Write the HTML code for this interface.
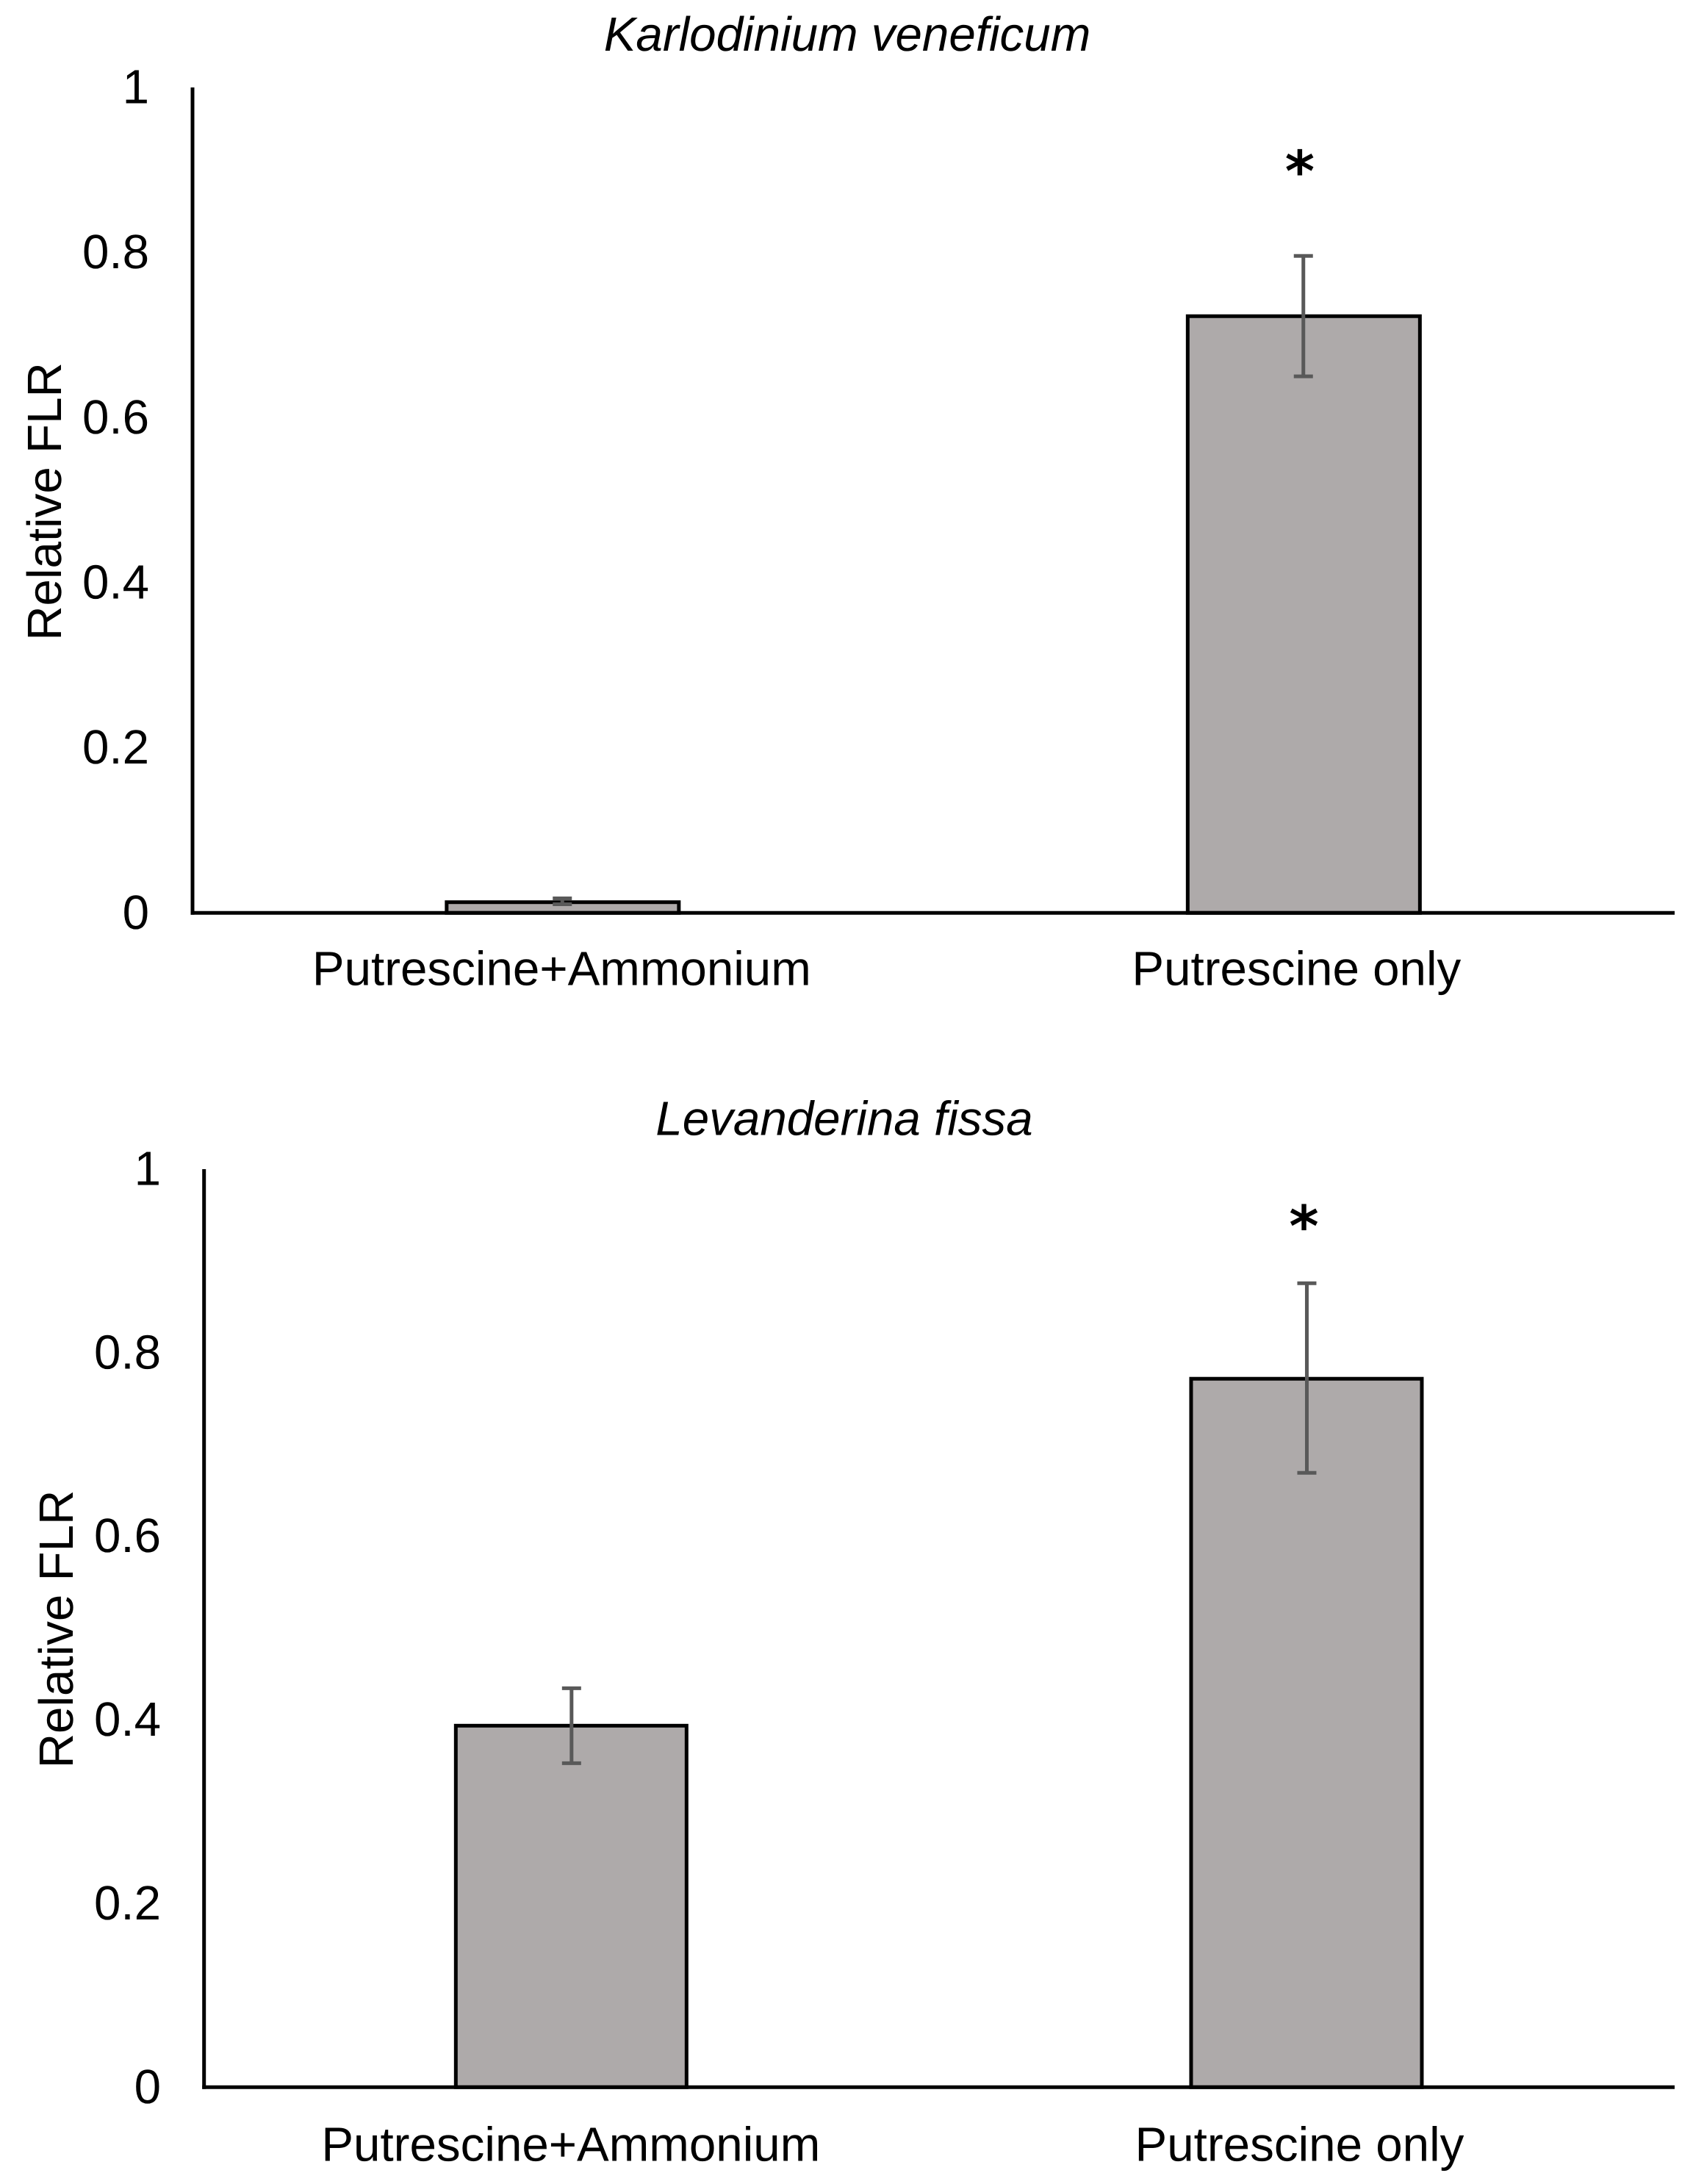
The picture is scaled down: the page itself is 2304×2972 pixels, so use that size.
<!DOCTYPE html>
<html lang="en">
<head>
<meta charset="utf-8">
<title>Relative FLR of Karlodinium veneficum and Levanderina fissa</title>
<style>
html,body{margin:0;padding:0;background:#fff;width:2304px;height:2972px;overflow:hidden}
svg{display:block;position:absolute;left:0;top:0}
text{font-family:"Liberation Sans",Arial,sans-serif;fill:#000;text-rendering:geometricPrecision}
</style>
</head>
<body>
<svg id="figure" xmlns="http://www.w3.org/2000/svg" width="2304" height="2972" viewBox="0 0 2304 2972"></svg>
<script>
const categories = ["Putrescine+Ammonium", "Putrescine only"];
const tickValues = [0, 0.2, 0.4, 0.6, 0.8, 1];
const tickLabels = ["0", "0.2", "0.4", "0.6", "0.8", "1"];
const yAxisTitle = "Relative FLR";

const karloTitle = "Karlodinium veneficum";
const karloValues = [0.013, 0.7229];
const karloErrHigh = [0.0176, 0.7959];
const karloErrLow = [0.0105, 0.650];
const karloStars = ["", "*"];
const karloStarValues = [0, 0.9075];

const levanTitle = "Levanderina fissa";
const levanValues = [0.3938, 0.7717];
const levanErrHigh = [0.4346, 0.8757];
const levanErrLow = [0.3529, 0.6692];
const levanStars = ["", "*"];
const levanStarValues = [0, 0.9474];

const NS = "http://www.w3.org/2000/svg";
const FONT = 65.5;
const STROKE = 5;
const root = document.getElementById("figure");

function mk(parent, tag, attrs, txt) {
  const el = document.createElementNS(NS, tag);
  for (const k in attrs) el.setAttribute(k, attrs[k]);
  if (txt !== undefined) el.textContent = txt;
  parent.appendChild(el);
  return el;
}

function drawPanel(p, title, values, errHigh, errLow, stars, starValues) {
  const y = v => p.y0 - v * (p.y0 - p.y1);
  const band = (p.xEnd - p.x0) / categories.length;
  const x = i => p.x0 + band * (i + 0.5);

  const g = mk(root, "g", {});
  
  

  const t = mk(g, "text", {x: p.titleX, y: p.titleY, "text-anchor": "middle", "font-size": FONT, "font-style": "italic"}, title);
  
  

  const yt = mk(g, "text", {transform: "translate(" + p.yTitleX + "," + p.yTitleY + ") rotate(-90)", "text-anchor": "middle", "font-size": FONT}, yAxisTitle);
  
  

  tickValues.forEach((v, i) => {
    const tl = mk(g, "text", {x: p.tickX, y: y(v) + p.tickDy, "text-anchor": "end", "font-size": FONT}, tickLabels[i]);
    
    
  });

  categories.forEach((c, i) => {
    const cx = x(i) + p.barDx;
    const bar = mk(g, "rect", {x: cx - p.barW / 2, y: y(values[i]), width: p.barW, height: p.y0 - y(values[i]), fill: "#AEAAAA", stroke: "#000", "stroke-width": STROKE});
    
    

    const ex = cx + p.errDx;
    const stem = mk(g, "line", {x1: ex, x2: ex, y1: y(errHigh[i]), y2: y(errLow[i]), stroke: "#595959", "stroke-width": STROKE});
    
    
    const capTop = mk(g, "line", {x1: ex - 13, x2: ex + 13, y1: y(errHigh[i]), y2: y(errHigh[i]), stroke: "#595959", "stroke-width": STROKE});
    
    
    const capLow = mk(g, "line", {x1: ex - 13, x2: ex + 13, y1: y(errLow[i]), y2: y(errLow[i]), stroke: "#595959", "stroke-width": STROKE});
    
    

    const lab = mk(g, "text", {x: cx + p.labelDx[i], y: p.labelY, "text-anchor": "middle", "font-size": FONT}, c);
    
    

    if (stars[i]) {
      const st = mk(g, "text", {x: cx + p.starDx, y: y(starValues[i]) + p.starDy, "text-anchor": "middle", "font-size": 77, "font-weight": "bold", style: 'font-family:"DejaVu Sans",sans-serif'}, stars[i]);
      
      
    }
  });

  const ya = mk(g, "line", {x1: p.x0, x2: p.x0, y1: p.y1, y2: p.y0 + STROKE / 2, stroke: "#000", "stroke-width": STROKE});
  
  
  const xa = mk(g, "line", {x1: p.x0 - STROKE / 2, x2: p.xEnd, y1: p.y0, y2: p.y0, stroke: "#000", "stroke-width": STROKE});
  
  
}

drawPanel({name: "panel-karlodinium", x0: 262, xEnd: 2279, y0: 1242.3, y1: 119, barW: 316, barDx: -0.4, errDx: -0.6,
  titleX: 1153, titleY: 69, yTitleX: 83, yTitleY: 682.5, tickX: 203, tickDy: 21.5, labelDx: [-1.5, -10], labelY: 1340.5, starDx: -5.5, starDy: 37},
  karloTitle, karloValues, karloErrHigh, karloErrLow, karloStars, karloStarValues);

drawPanel({name: "panel-levanderina", x0: 277.7, xEnd: 2279, y0: 2840.3, y1: 1591, barW: 314, barDx: -0.7, errDx: 0.5,
  titleX: 1149, titleY: 1544.5, yTitleX: 99, yTitleY: 2217, tickX: 219, tickDy: 21.5, labelDx: [-0.5, -9.5], labelY: 2940.5, starDx: -3.5, starDy: 39},
  levanTitle, levanValues, levanErrHigh, levanErrLow, levanStars, levanStarValues);
</script>
</body>
</html>
